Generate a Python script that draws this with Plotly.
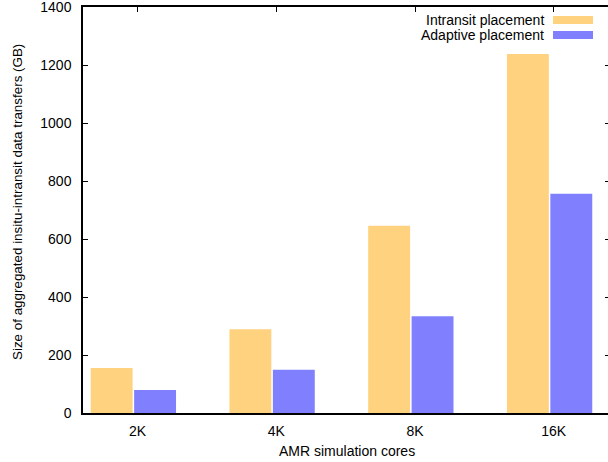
import plotly.graph_objects as go

categories = ["2K", "4K", "8K", "16K"]
series_names = ["Intransit placement", "Adaptive placement"]
intransit = [155, 289, 646, 1238]
adaptive = [79, 149, 334, 756]
y_ticks = [0, 200, 400, 600, 800, 1000, 1200, 1400]
x_title = "AMR simulation cores"
y_title = "Size of aggregated insitu-intransit data transfers (GB)"

colors = ["#ffd280", "#8080ff"]
FONT = "Liberation Sans, Arial, Helvetica, sans-serif"
xpos = list(range(len(categories)))
xr = [-0.363, 3.421]
yr = [0, 1400]
L, T, PW, PH = 83, 7, 525, 406

fig = go.Figure()
for name, vals, c in zip(series_names, [intransit, adaptive], colors):
    fig.add_trace(go.Bar(x=xpos, y=vals, name=name, marker=dict(color=c, line=dict(width=0)),
                         showlegend=False))

# invisible trace to activate secondary axes
fig.add_trace(go.Scatter(x=[xr[0]], y=[0], xaxis="x2", yaxis="y2", mode="markers",
                         marker=dict(opacity=0), showlegend=False, hoverinfo="skip"))

fig.update_layout(
    width=608, height=462,
    margin=dict(l=L, r=0, t=T, b=462 - T - PH),
    paper_bgcolor="white", plot_bgcolor="white",
    font=dict(family=FONT, size=14, color="black"),
    barmode="group", bargap=0.374, bargroupgap=0.035,
    xaxis=dict(range=xr, tickvals=[p + 0.03 for p in xpos], ticktext=categories,
               ticks="", showgrid=False, zeroline=False, showline=True, linecolor="black",
               linewidth=1.5, mirror=True, ticklabelstandoff=4),
    yaxis=dict(range=yr, tickvals=y_ticks, ticks="inside", ticklen=5, tickcolor="black",
               showgrid=False, zeroline=False, showline=True, linecolor="black", linewidth=1.5,
               ticklabelstandoff=7, ticklabeloverflow="allow"),
    xaxis2=dict(overlaying="x", side="top", range=xr, tickvals=[p + 0.03 for p in xpos],
                ticks="inside", ticklen=5, tickcolor="black", showticklabels=False,
                showgrid=False, zeroline=False, showline=False),
    yaxis2=dict(overlaying="y", side="right", range=yr, tickvals=y_ticks, ticks="inside",
                ticklen=3, tickcolor="black", showticklabels=False, showgrid=False,
                zeroline=False, showline=False),
)

# axis titles
fig.add_annotation(xref="paper", yref="paper", x=(347 - L) / PW, y=1 - (451 - T) / PH,
                   text=x_title, showarrow=False, xanchor="center", yanchor="middle",
                   font=dict(size=14, family=FONT))
fig.add_annotation(xref="paper", yref="paper", x=(17 - L) / PW, y=1 - (202 - T) / PH,
                   text=y_title, showarrow=False, xanchor="center", yanchor="middle",
                   textangle=-90, font=dict(size=13.4, family=FONT))

# legend (text left of swatch, gnuplot style)
row_y = [20, 35]
for name, c, yy in zip(series_names, colors, row_y):
    yp = 1 - (yy - T) / PH
    fig.add_annotation(xref="paper", yref="paper", x=(545 - L) / PW, y=yp, text=name,
                       showarrow=False, xanchor="right", yanchor="middle",
                       font=dict(size=14, family=FONT), borderpad=0)
    fig.add_shape(type="rect", xref="paper", yref="paper",
                  x0=(553 - L) / PW, x1=(593 - L) / PW,
                  y0=1 - (yy + 4 - T) / PH, y1=1 - (yy - 4 - T) / PH,
                  fillcolor=c, line=dict(width=0))

fig.write_html("out.html")
